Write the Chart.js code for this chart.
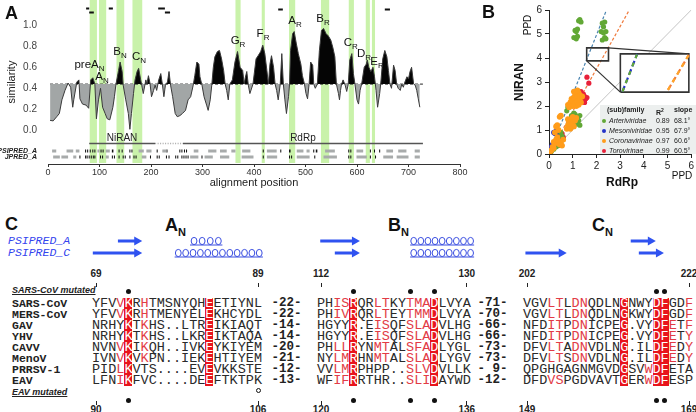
<!DOCTYPE html>
<html><head><meta charset="utf-8">
<script src="https://cdn.jsdelivr.net/npm/chart.js@4.4.0/dist/chart.umd.min.js"></script>
<style>
html,body{margin:0;padding:0;background:#fff;}
body{width:696px;height:412px;position:relative;overflow:hidden;font-family:"Liberation Sans",Arial,sans-serif;}
canvas{position:absolute;}
.t{position:absolute;white-space:nowrap;}
.plet{font-weight:bold;font-size:18px;line-height:18px;color:#111;}
.row{position:absolute;height:11px;white-space:nowrap;font-family:"Liberation Mono",monospace;font-size:13.5px;color:#2a2a2a;}
.ch{display:inline-block;width:8.1px;height:11px;line-height:11px;text-align:center;vertical-align:top;}
.red{color:#e23b46;}
.box{background:#e8141c;color:#fff;}
.name{font-family:"Liberation Mono",monospace;font-weight:bold;font-size:11.5px;line-height:11px;color:#222;}
.gap{font-family:"Liberation Mono",monospace;font-weight:bold;font-size:12.5px;line-height:11px;color:#222;transform:translateX(-50%);}
.num{font-weight:bold;font-size:10px;line-height:10px;color:#222;transform:translateX(-50%);}
.tick{position:absolute;width:1px;height:4px;background:#222;}
.dot{position:absolute;width:5px;height:5px;border-radius:50%;background:#111;}
.odot{position:absolute;width:3px;height:3px;border-radius:50%;border:1px solid #111;background:#fff;}
.mut{font-style:italic;font-weight:bold;font-size:9px;line-height:9px;text-decoration:underline;color:#222;}
.ss{font-family:"Liberation Mono",monospace;font-style:italic;font-size:11.5px;line-height:12px;color:#3344ee;}
.motif{font-weight:bold;font-size:18px;line-height:18px;color:#111;}
.motif span{font-size:11px;position:relative;top:5px;}
.leg{font-size:7px;line-height:8px;color:#222;}
</style>
</head><body>
<canvas id="cA" width="470" height="192" style="left:0;top:0"></canvas>
<canvas id="cB" width="236" height="195" style="left:460px;top:0"></canvas>
<script>
// ---------- Panel A data ----------
const simPos = [4,10,17,22,27,33,39,44,48,50,56,60,62,67,74,79,83,87,91,94,98,102,106,111,115,120,126,129,132,137,140,144,146,151,156,159,162,166,169,173,176,180,182,185,190,192,195,198,201,205,208,211,215,219,222,225,228,232,235,238,242,247,251,256,261,267,272,277,282,285,289,293,295,299,303,308,311,315,318,321,324,329,333,337,341,344,347,350,353,358,363,368,373,378,381,383,386,389,392,398,404,408,413,417,421,425,428,431,434,438,441,444,447,451,454,457,460,463,467,469,471,475,478,482,486,491,494,498,501,504,507,510,514,516,519,523,527,531,535,540,544,549,553,557,560,564,566,568,570,573,577,580,583,586,590,593,596,600,603,606,609,614,618,620,623,627,631,634,637,640,644,646,650,654,658,661,664,667,671,674,677,680,684,687,690,693,697,700,703,706,710,713,716,719,722];
const simVal = [0.095,0.09,0.13,0.16,0.29,0.38,0.45,0.41,0.22,0.29,0.46,0.48,0.30,0.25,0.24,0.21,0.48,0.50,0.44,0.11,0.29,0.40,0.22,0.16,0.11,0.10,0.22,0.32,0.44,0.57,0.65,0.56,0.43,0.29,0.16,0.01,0.16,0.35,0.48,0.56,0.59,0.48,0.43,0.35,0.48,0.44,0.52,0.45,0.32,0.38,0.43,0.38,0.48,0.54,0.44,0.32,0.43,0.46,0.56,0.43,0.32,0.16,0.13,0.14,0.16,0.19,0.29,0.32,0.43,0.52,0.65,0.63,0.51,0.43,0.32,0.24,0.19,0.29,0.43,0.60,0.70,0.75,0.76,0.68,0.57,0.44,0.38,0.29,0.44,0.48,0.65,0.75,0.60,0.57,0.44,0.50,0.56,0.43,0.35,0.44,0.68,0.71,0.75,0.81,0.73,0.57,0.44,0.63,0.71,0.60,0.44,0.38,0.29,0.44,0.73,0.44,0.29,0.16,0.32,0.44,0.76,0.92,0.94,0.83,0.73,0.63,0.52,0.44,0.35,0.30,0.44,0.65,0.62,0.44,0.40,0.44,0.76,0.95,0.97,0.92,0.90,0.86,0.79,0.70,0.44,0.35,0.29,0.38,0.44,0.48,0.43,0.37,0.44,0.67,0.73,0.54,0.44,0.29,0.25,0.38,0.44,0.60,0.63,0.67,0.60,0.56,0.60,0.51,0.38,0.22,0.35,0.44,0.68,0.76,0.70,0.57,0.44,0.40,0.62,0.57,0.44,0.40,0.38,0.44,0.41,0.46,0.51,0.49,0.56,0.60,0.44,0.43,0.38,0.30,0.22];
const threshold = 0.44;
const xTicksA = [0,100,200,300,400,500,600,700,800];
const yTicksA = [0,0.2,0.4,0.6,0.8,1.0];
const bandFrom = [81,99,133,164,364,415,468,530,584,617,629];
const bandTo   = [95,113,148,183,374,421,480,546,594,625,635];
const peakMain = ['preA','A','B','C','G','F','A','B','C','D','E'];
const peakSub  = ['N','N','N','N','R','R','R','R','R','R','R'];
const peakX    = [80.6,104.9,139.8,176.7,369,417.5,479.6,534,588,613.6,638.8];
const peakY    = [0.594,0.48,0.717,0.67,0.822,0.889,1.012,1.031,0.803,0.698,0.622];
const topMarkFrom = [74,80,118,214,227,447,654];
const topMarkTo   = [80,89,126,227,237,456,664];
const topMarkY    = [1.16,1.12,1.16,1.16,1.12,1.15,1.15];
const domainSolid = [[80,208],[262,728]];
const domainDotted = [[208,262]];
const domainNames = ['NiRAN','RdRp'];
const domainLabelX = [143.7,495];
const psiGray = [[8,16],[36,49],[54,61],[96,100],[112,120],[176,186],[191,201],[222,230],[283,292],[311,327],[334,347],[356,364],[377,393],[425,444],[483,496],[502,508],[538,557],[599,612],[657,670],[680,696],[712,722]];
const psiBlack = [[72,74],[76,78],[81,83],[86,88],[90,92],[102,104],[106,108],[124,127],[137,139],[143,145],[158,160],[162,164],[211,213],[230,232],[255,257],[259,261],[264,266],[268,270],[417,419],[451,453],[468,471],[515,517],[520,523],[583,585],[587,589],[625,627],[633,635],[643,645]];
const jpGray = [[10,23],[26,39],[49,55],[112,118],[182,191],[276,292],[304,320],[334,352],[376,399],[425,445],[483,508],[535,561],[599,619],[651,670],[677,700],[712,722]];
const jpBlack = [[61,63],[72,74],[75,77],[79,81],[83,85],[87,89],[90,92],[101,103],[105,107],[124,126],[128,130],[137,139],[145,147],[149,151],[158,160],[166,168],[170,172],[198,200],[211,213],[215,217],[229,231],[234,236],[247,249],[251,253],[259,261],[263,265],[267,269],[271,273],[298,300],[417,419],[468,470],[472,474],[517,519],[583,585],[587,589],[625,627],[635,637]];
const trackNames = ['PSIPRED_A','JPRED_A'];

// ---------- Panel B data ----------
const arteriX = [1.1,1.15,1.2,1.25,1.3,1.35,1.05,1.15,1.2,2.25,2.3,2.35,2.2,2.3,2.4,2.25,2.35,2.4,0.8,0.85,0.9,0.75,0.95,1.0,1.05,1.1,1.2,1.25,1.3,1.2,1.1,1.0,1.3,0.5,0.55,0.6,0.45,0.4,0.3,0.2,0.1,0.05];
const arteriY = [5.15,5.1,5.2,5.55,5.6,5.5,4.85,4.8,4.9,5.45,5.3,5.5,5.1,5.05,5.1,4.75,4.85,4.8,1.95,2.0,2.1,1.8,1.6,1.5,1.7,1.65,1.55,1.4,1.6,1.25,1.3,1.45,1.2,0.9,0.75,0.6,0.55,0.35,0.3,0.2,0.1,0.05];
const mesoX = [0.2,0.25,0.3,0.35,0.4,0.15,0.1,0.2,0.05,0.45,0.55];
const mesoY = [0.9,0.85,0.95,0.8,0.65,0.4,0.3,0.35,0.2,0.7,0.75];
const coronaX = [0.8,0.9,0.95,1.0,1.05,1.1,1.15,1.2,1.25,1.3,1.1,1.2,1.3,1.35,1.0,1.15,1.25,1.4,0.85,1.05,1.2,0.75,0.8,0.85,0.9,0.95,1.0,1.05,0.9,1.1,1.15,0.8,1.0,0.1,0.15,0.2,0.25,0.3,0.35,0.4,0.45,0.5,0.3,0.35,0.2,0.05,0.55,0.6,0.25,0.4,0.45,0.5];
const coronaY = [2.05,2.15,2.3,2.2,2.35,2.45,2.5,2.4,2.55,2.45,2.1,2.2,2.3,2.15,2.0,2.0,2.05,2.4,1.95,2.6,2.65,1.05,1.2,1.35,1.25,1.4,1.3,1.15,1.05,1.4,1.5,1.45,1.55,0.15,0.3,0.5,0.45,0.6,0.7,0.55,0.4,0.5,1.15,1.2,0.25,0.1,0.35,0.6,0.9,1.0,1.55,1.6];
const toroX = [1.35,1.45,1.5,1.55,1.4,1.6,1.6,1.68,0.5,0.55,0.6,1.5];
const toroY = [2.6,2.5,2.4,2.3,2.2,2.35,3.2,2.95,0.75,0.85,0.7,2.15];
const familyNames = ['Arteriviridae','Mesoniviridae','Coronavirinae','Torovirinae'];
const familyColors = ['#62a836','#2433c8','#ff9c1a','#e8203a'];
const r2Vals = ['0.89','0.95','0.97','0.99'];
const slopeVals = ['68.1°','67.9°','60.6°','60.5°'];
const fitAngleBlue = 68.0, fitAngleOrange = 60.55;
const zoomSmall = [[1.59,3.88],[2.51,3.88],[2.51,4.42],[1.59,4.42],[1.59,3.88]];
const zoomBig = [[3.01,2.58],[5.9,2.58],[5.9,4.17],[3.01,4.17],[3.01,2.58]];
const zoomLinks = [[[2.51,4.42],[5.9,4.17]],[[1.59,3.88],[3.01,2.58]]];
const insetSteep = [[3.1,2.6],[3.72,4.17]];
const insetShallow = [[5.02,2.67],[5.9,4.13]];

// ---------- Panel C data ----------
const seqNames = ['SARS-CoV','MERS-CoV','GAV','YHV','CAVV','MenoV','PRRSV-1','EAV'];
const motifA = ['YFVVKRHTMSNYQHEETIYNL','YFVVKRHTMENYELEKHCYDL','NRHYKTKHS..LTREIKIAQT','NRHYKTKHS..LKREIKTAQA','NVNVKIKQH..IVKEYKIYEM','IVNVKVKPN..IEKEHTIYEM','PIDLKVTS....EVEVKKSTE','LFNIKFVC....DEEFTKTPK'];
const motifB = ['PHISRQRLTKYTMADLVYA','PHIVRQRLTEYTMMDLVYA','HGYYR.EISQFSLADVLHG','HGYYR.EISQFSLADVLHG','PHLLRYNMTALSFADLYGL','NYLMRHNMTALSLADLYGV','VVLMRPHPP..SLVDVLLK','WFIFRRTHR..SLIDAYWD'];
const motifC = ['VGVLTLDNQDLNGNWYDFGDF','VGVLTLDNQDLNGKWYDFGDF','NFDITPDNICPEG.VYDFETF','NFDITPDNICPEG.VYDFETY','DFVLTADNVDLNG.ILDFEDY','DFVLTSDNVDLNG.ILDFEDY','QPGHGAGNMGVDGSVWDFETA','DFDVSPGDVAVTGERWDFESP'];
const gapAB = ['-22-','-22-','-14-','-14-','-20-','-21-','-12-','-13-'];
const gapBC = ['-71-','-70-','-66-','-66-','-73-','-73-','- 9-','-12-'];
const redA = [[3,6],[3,6],[6],[6],[3,6],[3,6],[3],[3]];
const redB = [[2,3,7,8,11,12,13],[2,3,7,8,11,12,13],[7,8,11,12,13],[7,8,11,12,13],[2,3,7,8,11,12,13],[2,3,7,8,11,12,13],[2,3,11,12,13],[2,3,11,12,13]];
const redC = [[3,4,6,7,20],[3,4,6,7,20],[3,4,6,7,18,20],[3,4,6,7,18,20],[3,4,6,7,18,20],[3,4,6,7,18,20],[15],[3,4,15]];
const boxCols = [[4,14],[4,14],[12,16,17]];
const topNums = [['69','89'],['112','130'],['202','222']];
const botNums = [['90','106'],['120','136'],['149','169']];
const numIdx = [[0,20],[0,18],[0,20]];
const dotsTop = [[4],[4,11,14],[16,17]];
const dotsBot = [[4],[4,11,14],[16,17]];
const openDot = [0,20];
const motifNames = [['A','N'],['B','N'],['C','N']];
const ssRows = ['PSIPRED_A','PSIPRED_C'];
// secondary structure elements: [row, column block, type, from residue, to residue]
const ssElems = [[0,0,'E',3.2,6.2],[0,0,'H',12.1,16.1],[0,1,'E',0.4,5.3],[0,1,'H',11.5,19.4],[0,2,'E',13.3,16.4],
                 [1,0,'E',0.1,6.2],[1,0,'H',10.2,21.1],[1,1,'E',2.2,5.3],[1,1,'H',11.5,19.4],[1,2,'E',0.3,5.4],[1,2,'E',14.3,17.4]];

// ---------- helpers ----------
function segPts(list, y){ const p=[]; list.forEach(([a,b])=>{p.push({x:a,y:y},{x:b,y:y},{x:b+0.01,y:null});}); return p; }
function xy(xs, ys){ return xs.map((x,i)=>({x:x,y:ys[i]})); }
function pairs(list){ return list.map(([x,y])=>({x:x,y:y})); }
function txt(s, x, y, cls, html){ const d=document.createElement('div'); d.className='t '+(cls||''); if(html) d.innerHTML=s; else d.textContent=s; d.style.left=x+'px'; d.style.top=y+'px'; document.body.appendChild(d); return d; }

// ---------- Chart A ----------
const yTrackPsi = -0.196, yTrackJp = -0.253, yDomain = -0.125;
const annotA = {
  id:'annotA',
  beforeDatasetsDraw(chart){
    const {ctx, chartArea:ca, scales:{x}} = chart;
    ctx.save(); ctx.fillStyle='#c9f2aa';
    bandFrom.forEach((f,i)=>{ const a=x.getPixelForValue(f), b=x.getPixelForValue(bandTo[i]); ctx.fillRect(a, ca.top, b-a, ca.bottom-ca.top-1); });
    ctx.restore();
  },
  afterDatasetsDraw(chart){
    const {ctx, chartArea:ca, scales:{x,y}} = chart;
    ctx.save(); ctx.fillStyle='#111'; ctx.textBaseline='alphabetic';
    peakMain.forEach((m,i)=>{
      ctx.font='11.5px "Liberation Sans", Arial'; const wm=ctx.measureText(m).width;
      ctx.font='8px "Liberation Sans", Arial'; const ws=ctx.measureText(peakSub[i]).width;
      const cx=x.getPixelForValue(peakX[i]), by=y.getPixelForValue(peakY[i]);
      const sx=cx-(wm+ws)/2;
      ctx.font='11.5px "Liberation Sans", Arial'; ctx.fillText(m, sx, by);
      ctx.font='8px "Liberation Sans", Arial'; ctx.fillText(peakSub[i], sx+wm, by+3);
    });
    ctx.font='10px "Liberation Sans", Arial'; ctx.textAlign='center'; ctx.fillStyle='#222';
    domainNames.forEach((n,i)=>ctx.fillText(n, x.getPixelForValue(domainLabelX[i]), y.getPixelForValue(yDomain)-3));
    ctx.font='italic bold 7px "Liberation Sans", Arial'; ctx.textAlign='right'; ctx.textBaseline='middle';
    ctx.fillText(trackNames[0], ca.left-11, y.getPixelForValue(yTrackPsi));
    ctx.fillText(trackNames[1], ca.left-11, y.getPixelForValue(yTrackJp));
    ctx.restore();
  }
};
const lineBase = {pointRadius:0, borderCapStyle:'butt', fill:false, tension:0};
new Chart(document.getElementById('cA'), {
  type:'line',
  data:{datasets:[
    Object.assign({}, lineBase, {data:xy(simPos, simVal), borderColor:'#3a3a3a', borderWidth:1,
      fill:{target:{value:threshold}, above:'#050505', below:'#a2a6a6'}}),
    Object.assign({}, lineBase, {data:[{x:4,y:threshold},{x:728,y:threshold}], borderColor:'#222', borderWidth:1, borderDash:[3,2]}),
    Object.assign({}, lineBase, {data:segPts(domainSolid, yDomain), borderColor:'#555', borderWidth:1.5}),
    Object.assign({}, lineBase, {data:segPts(domainDotted, yDomain), borderColor:'#aaa', borderWidth:1.5, borderDash:[1,1.5]}),
    Object.assign({}, lineBase, {data:segPts(psiGray, yTrackPsi), borderColor:'#a8abab', borderWidth:3}),
    Object.assign({}, lineBase, {data:segPts(psiBlack, yTrackPsi), borderColor:'#111', borderWidth:3}),
    Object.assign({}, lineBase, {data:segPts(jpGray, yTrackJp), borderColor:'#a8abab', borderWidth:3}),
    Object.assign({}, lineBase, {data:segPts(jpBlack, yTrackJp), borderColor:'#111', borderWidth:3}),
    Object.assign({}, lineBase, {data:topMarkFrom.flatMap((f,i)=>[{x:f,y:topMarkY[i]},{x:topMarkTo[i],y:topMarkY[i]},{x:topMarkTo[i]+0.01,y:null}]), borderColor:'#111', borderWidth:2})
  ]},
  options:{
    responsive:false, animation:false, events:[],
    layout:{padding:{left:0,right:10,top:0,bottom:0}},
    plugins:{legend:{display:false}, tooltip:{enabled:false}},
    scales:{
      x:{type:'linear', min:0, max:800,
        afterBuildTicks:s=>{s.ticks=xTicksA.map(v=>({value:v}));},
        afterFit:s=>{s.height=28;},
        border:{display:true,color:'#333',width:1},
        grid:{display:true, drawOnChartArea:false, drawTicks:true, tickLength:3, color:'#333'},
        ticks:{font:{size:9,family:'"Liberation Sans", Arial'}, color:'#333', padding:0, maxRotation:0},
        title:{display:true, text:'alignment position', font:{size:11,family:'"Liberation Sans", Arial'}, color:'#222', padding:{top:0,bottom:2}}},
      y:{type:'linear', min:-0.32, max:1.24,
        afterBuildTicks:s=>{s.ticks=yTicksA.map(v=>({value:v}));},
        afterFit:s=>{s.width=48; s.paddingTop=0; s.paddingBottom=0;},
        border:{display:false},
        grid:{display:false, drawTicks:true, tickLength:8},
        ticks:{font:{size:10,family:'"Liberation Sans", Arial'}, color:'#444', padding:3, callback:v=>v.toFixed(1)},
        title:{display:true, text:'similarity', font:{size:11,family:'"Liberation Sans", Arial'}, color:'#222', padding:{top:5,bottom:0}}}
    }
  },
  plugins:[annotA]
});

// ---------- Chart B ----------
const titlesB = {
  id:'titlesB',
  afterDraw(chart){
    const {ctx} = chart; ctx.save(); ctx.fillStyle='#111'; ctx.textAlign='center'; ctx.textBaseline='middle';
    ctx.save(); ctx.translate(60,82); ctx.rotate(-Math.PI/2); ctx.font='bold 12px "Liberation Sans", Arial'; ctx.fillText('NIRAN',0,0); ctx.restore();
    ctx.save(); ctx.translate(68,25); ctx.rotate(-Math.PI/2); ctx.font='10px "Liberation Sans", Arial'; ctx.fillText('PPD',0,0); ctx.restore();
    ctx.font='bold 12px "Liberation Sans", Arial'; ctx.fillText('RdRp',162,183);
    ctx.font='10px "Liberation Sans", Arial'; ctx.fillText('PPD',222,176);
    ctx.restore();
  }
};
const tb = Math.tan(fitAngleBlue*Math.PI/180), to = Math.tan(fitAngleOrange*Math.PI/180);
const lb = {type:'line', pointRadius:0, tension:0, fill:false, borderCapStyle:'butt'};
const ptB = {pointRadius:2.6, pointBorderWidth:0, order:4};
new Chart(document.getElementById('cB'), {
  type:'scatter',
  data:{datasets:[
    Object.assign({}, lb, {data:[{x:0,y:0},{x:6,y:6}], borderColor:'#c4c4c4', borderWidth:1, order:6}),
    Object.assign({}, lb, {data:[{x:0,y:0},{x:6/tb,y:6}], borderColor:'#4a84b0', borderWidth:1.2, borderDash:[3,2], order:5}),
    Object.assign({}, lb, {data:[{x:0,y:0},{x:6/to,y:6}], borderColor:'#f07a3c', borderWidth:1.2, borderDash:[3,2], order:5}),
    Object.assign({}, ptB, {data:xy(coronaX, coronaY), backgroundColor:familyColors[2], pointRadius:2.9}),
    Object.assign({}, ptB, {data:xy(arteriX, arteriY), backgroundColor:familyColors[0]}),
    Object.assign({}, ptB, {data:xy(toroX, toroY), backgroundColor:familyColors[3]}),
    Object.assign({}, ptB, {data:xy(mesoX, mesoY), backgroundColor:familyColors[1]}),
    Object.assign({}, lb, {data:pairs(zoomBig), borderColor:'#333', borderWidth:1.6, fill:'shape', backgroundColor:'#fff', order:3}),
    Object.assign({}, lb, {data:pairs(zoomSmall), borderColor:'#333', borderWidth:1.6, order:3}),
    Object.assign({}, lb, {data:pairs(zoomLinks[0]), borderColor:'#333', borderWidth:1.2, order:3}),
    Object.assign({}, lb, {data:pairs(zoomLinks[1]), borderColor:'#333', borderWidth:1.2, order:3}),
    Object.assign({}, lb, {data:pairs(insetSteep), borderColor:'#2433c8', borderWidth:2.2, borderDash:[6,3], order:1}),
    Object.assign({}, lb, {data:pairs(insetSteep), borderColor:'#62a836', borderWidth:2.2, borderDash:[4,5], borderDashOffset:0, order:0}),
    Object.assign({}, lb, {data:pairs(insetShallow), borderColor:'#f07a3c', borderWidth:2.2, borderDash:[6,3], order:1}),
    Object.assign({}, lb, {data:pairs(insetShallow), borderColor:'#ffa62a', borderWidth:2.2, borderDash:[4,5], order:0})
  ]},
  options:{
    responsive:false, animation:false, events:[],
    layout:{padding:{left:0,right:4,top:10,bottom:0}},
    plugins:{legend:{display:false}, tooltip:{enabled:false}},
    scales:{
      x:{type:'linear', min:0, max:6, afterFit:s=>{s.height=41;},
        border:{display:true,color:'#222'}, grid:{display:true,drawOnChartArea:false,tickLength:4,color:'#222'},
        ticks:{stepSize:1, font:{size:10,family:'"Liberation Sans", Arial'}, color:'#222', padding:2}},
      y:{type:'linear', min:0, max:6, afterFit:s=>{s.width=89;},
        border:{display:true,color:'#222'}, grid:{display:true,drawOnChartArea:false,tickLength:4,color:'#222'},
        ticks:{stepSize:1, font:{size:10,family:'"Liberation Sans", Arial'}, color:'#222', padding:3}}
    }
  },
  plugins:[titlesB]
});

// ---------- Panel letters ----------
txt('A',5,4,'plet'); txt('B',482,3,'plet'); txt('C',5,215,'plet');

// ---------- Panel B legend ----------
(function(){
  const bg=document.createElement('div'); bg.style.cssText='position:absolute;left:600px;top:105px;width:96px;height:49px;background:#ecefee;';
  document.body.appendChild(bg);
  txt('<b>(sub)family</b>',607,106,'leg',true);
  txt('<b>R<sup style="font-size:5px">2</sup></b>',656,106,'leg',true);
  txt('<b>slope</b>',674,106,'leg',true);
  familyNames.forEach((n,i)=>{
    const yc = 120.5 + i*10.2;
    const d=document.createElement('div'); d.style.cssText='position:absolute;width:4px;height:4px;border-radius:50%;left:602px;top:'+(yc-2)+'px;background:'+familyColors[i];
    document.body.appendChild(d);
    txt('<i>'+n+'</i>',609,yc-4,'leg',true);
    txt(r2Vals[i],656,yc-4,'leg');
    txt(slopeVals[i],674,yc-4,'leg');
  });
})();

// ---------- Panel C ----------
const CX0=[92,317,523], CW=8.1, ROW0=297.5, RH=11;
const motifs=[motifA,motifB,motifC], reds=[redA,redB,redC];
function ccx(c,i){ return CX0[c]+i*CW+CW/2; }
seqNames.forEach((nm,r)=>{
  const top=ROW0+r*RH;
  txt(nm,12,top,'name');
  motifs.forEach((mot,c)=>{
    const s=mot[r]; const div=document.createElement('div'); div.className='row'; div.style.left=CX0[c]+'px'; div.style.top=top+'px';
    for(let i=0;i<s.length;i++){ const sp=document.createElement('span'); sp.className='ch'+(boxCols[c].includes(i)?' box':(reds[c][r].includes(i)?' red':'')); sp.textContent=s[i]; div.appendChild(sp); }
    document.body.appendChild(div);
  });
  txt(gapAB[r],286.5,top,'gap'); txt(gapBC[r],492.5,top,'gap');
});
txt('SARS-CoV mutated',12,285.5,'mut'); txt('EAV mutated',12,387.5,'mut');
for(let c=0;c<3;c++){
  numIdx[c].forEach((ix,k)=>{
    const x=ccx(c,ix);
    txt(topNums[c][k],x,269,'num'); txt(botNums[c][k],x,405,'num');
    let t=document.createElement('div'); t.className='tick'; t.style.left=(x-0.5)+'px'; t.style.top='283px'; document.body.appendChild(t);
    t=document.createElement('div'); t.className='tick'; t.style.left=(x-0.5)+'px'; t.style.top='401px'; document.body.appendChild(t);
  });
  dotsTop[c].forEach(ix=>{ const d=document.createElement('div'); d.className='dot'; d.style.left=(ccx(c,ix)-2.5)+'px'; d.style.top='288.5px'; document.body.appendChild(d); });
  dotsBot[c].forEach(ix=>{ const d=document.createElement('div'); d.className='dot'; d.style.left=(ccx(c,ix)-2.5)+'px'; d.style.top='397.5px'; document.body.appendChild(d); });
}
(function(){ const d=document.createElement('div'); d.className='odot'; d.style.left=(ccx(openDot[0],openDot[1])-2.5)+'px'; d.style.top='387.5px'; document.body.appendChild(d); })();
// motif titles
const motifX=[165,388,592];
motifNames.forEach((m,i)=>txt(m[0]+'<span>'+m[1]+'</span>',motifX[i],216,'motif',true));
// secondary structure
txt(ssRows[0],8,235,'ss'); txt(ssRows[1],8,247,'ss');
(function(){
  const NS='http://www.w3.org/2000/svg';
  const svg=document.createElementNS(NS,'svg'); svg.setAttribute('width','696'); svg.setAttribute('height','412');
  svg.style.cssText='position:absolute;left:0;top:0;pointer-events:none;';
  const rowY=[241,253];
  ssElems.forEach(([row,c,type,f,t])=>{
    const x1=CX0[c]+f*CW, x2=CX0[c]+t*CW, y=rowY[row];
    if(type==='E'){
      const p=document.createElementNS(NS,'path');
      p.setAttribute('d',`M${x1} ${y-1.5} L${x2-8} ${y-1.5} L${x2-8} ${y-4.5} L${x2} ${y} L${x2-8} ${y+4.5} L${x2-8} ${y+1.5} L${x1} ${y+1.5} Z`);
      p.setAttribute('fill','#2f52f0'); svg.appendChild(p);
    } else {
      const n=Math.max(1,Math.round((x2-x1)/7.3)), w=(x2-x1)/n;
      const base=document.createElementNS(NS,'line'); base.setAttribute('x1',x1); base.setAttribute('x2',x2); base.setAttribute('y1',y+4); base.setAttribute('y2',y+4);
      base.setAttribute('stroke','#3a4ee0'); base.setAttribute('stroke-width','1'); svg.appendChild(base);
      for(let k=0;k<n;k++){ const e=document.createElementNS(NS,'ellipse'); e.setAttribute('cx',x1+(k+0.5)*w); e.setAttribute('cy',y); e.setAttribute('rx',Math.min(2.9,w/2-0.4)); e.setAttribute('ry',3.6);
        e.setAttribute('fill','none'); e.setAttribute('stroke','#3a4ee0'); e.setAttribute('stroke-width','1'); svg.appendChild(e); }
    }
  });
  document.body.appendChild(svg);
})();
</script>
</body></html>
